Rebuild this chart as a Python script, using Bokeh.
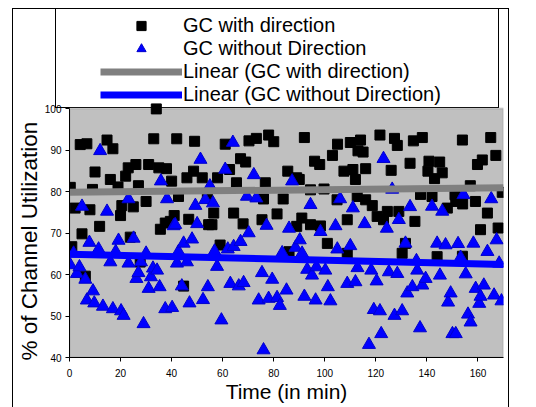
from bokeh.plotting import figure
from bokeh.models import (Range1d, SingleIntervalTicker, Legend, LegendItem,
                          InlineStyleSheet, BoxAnnotation, Title)
from bokeh.embed import file_html
from bokeh.resources import INLINE

# GC with direction (black squares)
sq_x = [0.3, 0.9, 2.2, 4.2, 4.9, 6.2, 6.8, 8, 9, 10, 11.8, 14.7, 16, 17, 19, 20, 20.5, 22, 23, 23.8,
        25, 26, 27, 27.7, 30, 31, 33, 34, 35, 35.6, 37.5, 38, 39.5, 40, 41, 42, 42.7, 44.7, 46, 46.7,
        48.6, 49, 52, 54, 54.5, 55.8, 56.5, 58, 59, 61, 62.7, 64.3, 65.4, 67, 68, 69, 70.3, 73.2, 75.4, 76,
        76.7, 78, 80, 81.3, 83.7, 85.5, 86, 89, 89, 90, 91, 92, 94.4, 94.4, 96, 98, 98.3, 99.7, 101, 103,
        104.8, 105, 107.5, 108.8, 108.8, 110, 111, 112, 112.7, 113, 114, 115, 116, 116, 118.6, 120.5, 121.6, 123, 124.5, 126,
        127.3, 128.4, 129, 130.3, 131.6, 133.4, 134.7, 135.3, 137.5, 138.2, 140.4, 140.8, 142, 143, 144, 145, 146, 148,
        151, 151.3, 153.9, 153.9, 154, 157, 159, 159.8, 161, 161.7, 163.7, 165, 167, 167.9, 169.5]
sq_y = [81, 66.7, 76, 91.3, 69.8, 59.6, 91.5, 75.6, 80.5, 84.7, 71.6, 92.4, 82.9, 90.3, 81.1, 74.2, 76.6, 83.7, 85.7, 69,
        76.3, 86.5, 81.4, 63, 77.6, 86.5, 92.7, 99.9, 85.7, 70.9, 72.4, 85.5, 72.8, 82.5, 74.2, 92.7, 78.8, 57.2, 83.3, 73.3,
        84.9, 92.1, 83.3, 79.2, 72, 72, 74.8, 83.3, 67.1, 91.4, 85.3, 74.8, 82.1, 87.9, 72.2, 87.1, 92.2, 92.8, 73.2, 78.2,
        82.1, 93.6, 92, 74.6, 78.2, 84.9, 65.5, 83.3, 71.6, 82.9, 73.6, 93, 80.4, 72, 87.3, 86.5, 71.7, 80.6, 67.5, 88.7,
        78, 91.4, 84.9, 73.2, 65.1, 91.8, 85.3, 82.9, 78.8, 89.8, 92.4, 89.5, 85.5, 78, 76.6, 74, 93.6, 73.2, 75.2, 85.1,
        92.8, 91.1, 75.2, 65.1, 67.5, 86.8, 92.2, 72.8, 79.3, 93, 84.9, 87.3, 78.8, 83.1, 64.3, 87.1, 84.5, 76,
        79.2, 77.6, 92.4, 64.4, 77, 81.4, 77.6, 86.5, 70.8, 87.6, 74.8, 93, 88.7, 71.2, 79.8]

# GC without Direction (blue triangles)
tr_x = [0.3, 1.6, 2.9, 3.9, 4.9, 6.2, 6.8, 7.8, 9.2, 9.7, 11.4, 12, 13.1, 14.7, 16, 17, 18.1, 19.2, 20.2, 21.2,
        23.1, 23.1, 25.1, 26.2, 27, 28, 29, 30, 31, 31.9, 32.7, 34.3, 35.3, 35.8, 37.5, 38.2, 40.2, 40.8, 41.4, 42.1,
        42.7, 44, 44.7, 46, 47, 48, 49.3, 50, 51.3, 52.3, 53.2, 54.2, 55, 56.2, 56.8, 57.8, 59.5, 61, 62, 63,
        64, 64.3, 66.3, 67, 68.2, 69.5, 70.2, 72.2, 73.2, 74.1, 75.4, 76, 77.2, 78, 79.4, 81.3, 82.4, 83.3, 85, 86,
        87.2, 88.5, 90.2, 91.1, 92, 93.1, 94.4, 95, 96.4, 96.7, 98.3, 100.2, 101.2, 102.2, 104.2, 104.9, 106, 108.8, 110, 111,
        112, 112.8, 115.6, 117.3, 118.2, 119.2, 120.3, 121.6, 122.1, 123, 124.3, 125.1, 126.4, 127.3, 128.4, 129, 130.3, 131.6, 132.3, 133.4,
        134.3, 135.9, 136.2, 137.3, 138.2, 139.5, 142, 144, 145.1, 146, 147.3, 148.3, 149.3, 150, 151.3, 152.2, 153.2, 154.3, 155.2, 156.1,
        157.1, 158.2, 159.1, 160.5, 161, 162.3, 163.7, 165.2, 166.3, 167.3, 168.3, 169.2]
tr_y = [62.3, 65.1, 60.2, 61.8, 76.4, 58.8, 53.8, 67.7, 56, 53.1, 66.1, 89.8, 52.3, 75.2, 63, 51.7, 65.5, 68.2, 51.2, 50.1,
        78.2, 62.7, 68.7, 59, 60.4, 63, 48.1, 65.1, 56.6, 59.4, 61.5, 61, 57, 82.5, 51.7, 78.2, 52, 71.7, 72, 62.7,
        65.5, 57.2, 67.5, 63, 53.1, 68.5, 76.6, 72.2, 87.7, 53.9, 78, 57, 81.3, 77.2, 65.6, 61.9, 49, 85.3, 66.1, 57.8,
        91.8, 66.7, 57.2, 67.9, 58, 78.8, 70, 84, 78.4, 53.8, 60.4, 41.8, 71.8, 54.2, 58.8, 54.4, 52.5, 65.2, 56.2, 71.1,
        82.5, 66.5, 68.3, 65.1, 54.7, 61.2, 76.8, 59.8, 53.8, 61.8, 70.3, 61, 57, 53.6, 71.7, 66.1, 78.2, 57.8, 66.9, 76,
        58.2, 61.6, 72.2, 43.1, 61, 51.5, 58.4, 51.2, 45.7, 87.9, 71.1, 60.6, 80.5, 50.1, 60.2, 73.2, 51.2, 67.5, 55.5, 76.3,
        57, 63.3, 61, 47.1, 57.4, 59, 76.4, 67.5, 59.8, 75.2, 67.1, 53.3, 55.5, 45.7, 45.7, 67.4, 64.1, 79.2, 60.1, 50.4,
        48.5, 67.5, 56.6, 53, 54.7, 57.4, 65.5, 78.2, 55, 68.3, 62.7, 53.6]

# Linear trend lines (end points)
trend_x = [0, 170]
trend_with = [79.8, 80.9]
trend_without = [64.9, 62.4]

x_min, x_max = 0, 170
y_min, y_max = 40, 100
x_ticks_interval = 20
y_ticks_interval = 10

FONT = "Liberation Sans"

# white page, thin black chart border and legend box (drawn behind the transparent canvas)
_g = "linear-gradient(#000,#000)"
frame_css = InlineStyleSheet(css=(
    ":host { background-color: white; "
    "background-image: " + ", ".join([_g] * 6) + "; "
    "background-position: 12px 8px, 12px 8px, 508px 8px, 55px 8px, 498px 8px, 55px 107px; "
    "background-size: 1px 399px, 497px 1px, 1px 399px, 1px 100px, 1px 100px, 444px 1px; "
    "background-repeat: no-repeat; }"
))

# frame spans from the top of the canvas; the plot area itself ends at y_max (108 px from the top)
H, TOP_PX, BOTTOM_PX = 407, 108, 50
y_top = y_min + (H - BOTTOM_PX) * (y_max - y_min) / (H - TOP_PX - BOTTOM_PX)

p = figure(width=536, height=H, output_backend="svg", toolbar_location=None,
           x_range=Range1d(x_min, x_max), y_range=Range1d(y_min, y_top),
           min_border_left=69, min_border_right=33, min_border_top=0, min_border_bottom=BOTTOM_PX,
           stylesheets=[frame_css])
p.background_fill_alpha = 0
p.border_fill_alpha = 0
p.outline_line_color = None
p.xgrid.visible = False
p.ygrid.visible = False

# grey plot area
p.add_layout(BoxAnnotation(left=x_min, right=x_max, bottom=y_min, top=y_max,
                           fill_color="#C0C0C0", fill_alpha=1,
                           line_color="#808080", line_width=2, level="underlay"))

for ax in (p.xaxis[0], p.yaxis[0]):
    ax.axis_line_color = "black"
    ax.major_tick_line_color = "black"
    ax.major_tick_in = 0
    ax.major_tick_out = 4
    ax.minor_tick_line_color = None
    ax.major_label_text_font = FONT
    ax.major_label_text_font_size = "10px"
    ax.major_label_text_color = "black"
    ax.axis_label_text_font = FONT
    ax.axis_label_text_font_style = "normal"
    ax.axis_label_text_color = "black"

p.xaxis[0].ticker = SingleIntervalTicker(interval=x_ticks_interval)
p.yaxis[0].ticker = SingleIntervalTicker(interval=y_ticks_interval)
p.yaxis[0].bounds = (y_min, y_max)
p.xaxis[0].axis_label = "Time (in min)"
p.xaxis[0].axis_label_text_font_size = "21px"
p.xaxis[0].major_label_standoff = 7
p.xaxis[0].axis_label_standoff = 0
p.yaxis[0].major_label_standoff = 4

# y axis title, aligned to the bottom of the plot area (beside the axis)
p.add_layout(Title(text="% of Channel Utilization", align="left", offset=-3,
                   vertical_align="bottom", standoff=0,
                   text_font=FONT, text_font_size="22.5px", text_font_style="normal",
                   text_color="black"), "left")

r_sq = p.scatter(sq_x, sq_y, marker="square", size=10, fill_color="black", line_color="black")
r_tr = p.scatter(tr_x, tr_y, marker="triangle", size=13, fill_color="#0000FF", line_color="#0000CC")
r_lw = p.line(trend_x, trend_with, line_color="#808080", line_width=7)
r_lwo = p.line(trend_x, trend_without, line_color="#0000FF", line_width=7)

legend = Legend(items=[
    LegendItem(label="GC with direction", renderers=[r_sq]),
    LegendItem(label="GC without Direction", renderers=[r_tr]),
    LegendItem(label="Linear (GC with direction)", renderers=[r_lw]),
    LegendItem(label="Linear (GC without Direction)", renderers=[r_lwo]),
], location=(31, 251), orientation="vertical")
legend.glyph_width = 82
legend.glyph_height = 23
legend.label_height = 23
legend.spacing = 0
legend.padding = 0
legend.margin = 0
legend.label_standoff = 1
legend.label_text_font = FONT
legend.label_text_font_size = "20px"
legend.label_text_color = "black"
legend.border_line_alpha = 0
legend.background_fill_alpha = 0
p.add_layout(legend, "center")

open("out.html", "w").write(file_html(p, INLINE))
